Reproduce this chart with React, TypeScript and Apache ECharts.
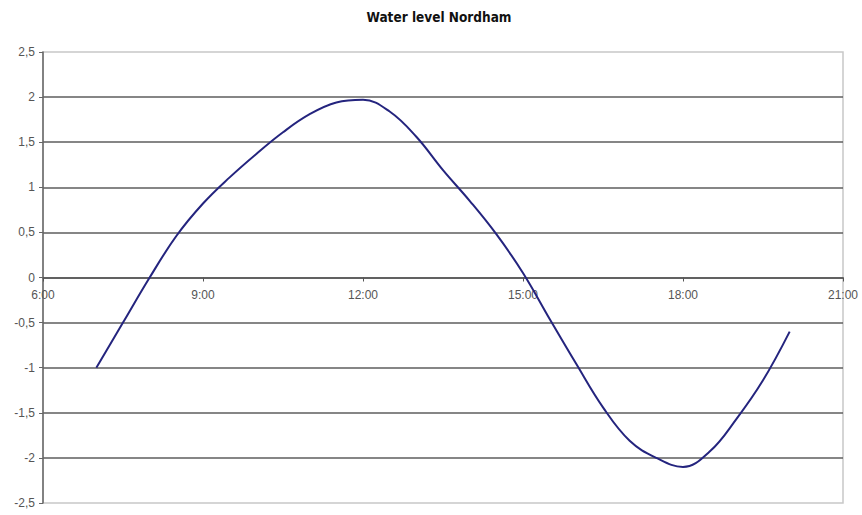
import React, { useEffect, useRef } from "react";
import * as echarts from "echarts";

const title = "Water level Nordham";

const times = [
  "7:00", "7:30", "8:00", "8:30", "9:00", "9:30", "10:00", "10:30", "11:00", "11:30",
  "12:00", "12:30", "13:00", "13:30", "14:00", "14:30", "15:00", "15:30", "16:00", "16:30",
  "17:00", "17:30", "18:00", "18:30", "19:00", "19:30", "20:00",
];

const levels = [
  -1.0, -0.5, 0.0, 0.46, 0.82, 1.11, 1.37, 1.61, 1.81, 1.94,
  1.97, 1.84, 1.56, 1.19, 0.85, 0.48, 0.05, -0.46, -0.96, -1.44,
  -1.81, -2.0, -2.1, -1.93, -1.57, -1.14, -0.6,
];

const xTicks = [6, 9, 12, 15, 18, 21];

const toHours = (t: string) => {
  const [h, m] = t.split(":").map(Number);
  return h + m / 60;
};

const GRID_TOP = 52;
const GRID_BOTTOM = 12;
const HEIGHT = 515;

export default function App() {
  const ref = useRef<HTMLDivElement>(null);

  useEffect(() => {
    if (!ref.current) return;
    const chart = echarts.init(ref.current, undefined, { renderer: "svg" });
    const data = times.map((t, i) => [toHours(t), levels[i]]);
    const plotH = HEIGHT - GRID_TOP - GRID_BOTTOM;
    const zeroOffset = plotH / 2; // distance from bottom edge to the y=0 line
    chart.setOption({
      animation: false,
      backgroundColor: "#ffffff",
      title: {
        text: title,
        left: 434,
        textAlign: "center",
        top: 5,
        textStyle: {
          fontFamily: "Liberation Sans Narrow, DejaVu Sans Condensed, Liberation Sans, Arial, sans-serif",
          fontWeight: "bold",
          fontSize: 13.5,
          color: "#111",
        },
      },
      grid: {
        left: 43,
        right: 19,
        top: GRID_TOP,
        bottom: GRID_BOTTOM,
        show: true,
        borderColor: "#c8c8c8",
        borderWidth: 1.5,
      },
      xAxis: {
        type: "value",
        min: xTicks[0],
        max: xTicks[xTicks.length - 1],
        interval: 3,
        position: "bottom",
        offset: -zeroOffset,
        axisLine: { show: true, onZero: false, lineStyle: { color: "#555", width: 1.5 } },
        axisTick: { show: true, length: 4, lineStyle: { color: "#555" } },
        axisLabel: {
          margin: 11,
          fontSize: 12,
          color: "#555",
          fontFamily: "Liberation Sans, Arial, sans-serif",
          formatter: (v: number) => `${v}:00`,
        },
        splitLine: { show: false },
      },
      yAxis: {
        type: "value",
        min: -2.5,
        max: 2.5,
        interval: 0.5,
        axisLine: { show: true, lineStyle: { color: "#666", width: 1.5 } },
        axisTick: { show: true, length: 4, lineStyle: { color: "#666" } },
        axisLabel: {
          margin: 8,
          fontSize: 12,
          color: "#555",
          fontFamily: "Liberation Sans, Arial, sans-serif",
          formatter: (v: number) => String(v).replace(".", ","),
        },
        splitLine: {
          show: true,
          showMinLine: false,
          showMaxLine: false,
          lineStyle: { color: "#5e5e5e", width: 1.5 },
        },
      },
      series: [
        {
          type: "line",
          data,
          smooth: 0.4,
          symbol: "none",
          lineStyle: { color: "#24247e", width: 2 },
        },
      ],
    });
    return () => chart.dispose();
  }, []);

  return <div ref={ref} style={{ width: 862, height: 515, position: "absolute", left: 0, top: 0 }} />;
}
